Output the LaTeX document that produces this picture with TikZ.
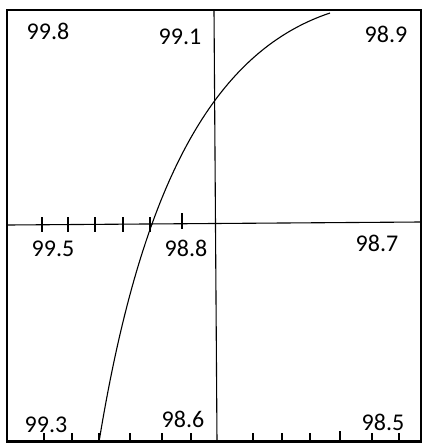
\documentclass[tikz,border=0pt]{standalone}
\usepackage{fontspec}
\setmainfont{Carlito}
\begin{document}
\begin{tikzpicture}[x=1pt,y=-1pt,
  lbl/.style={inner sep=0pt,font=\fontsize{24}{24}\selectfont},
  thin line/.style={line width=1.1pt,black},
  frame/.style={line width=2.4pt,black},
  tickmark/.style={line width=1.1pt,black}]
\useasboundingbox (0,0) rectangle (424,444);
% axes-like lines
\draw[thin line] (8,225) -- (421,222);
\draw[thin line] (214,10) -- (217,442);
% ticks on horizontal line
\foreach \x in {42,68,95,123,150}{\draw[tickmark] (\x,217) -- (\x,232);}
\draw[tickmark] (182,213) -- (182,229);
% ticks on bottom
\foreach \x in {44,72,99,130,162,191,253,282,310,372,399}{\draw[tickmark] (\x,442) -- (\x,433);}
\draw[tickmark] (340,442) -- (340,431);
% curve
\coordinate (cs) at (99,442);
\coordinate (ce) at (330,13);
\draw[thin line] (cs) .. controls (139.8,192) and (210,53) .. (ce);
% frame
\draw[frame] (7,10) rectangle (421,441.5);
% labels
\node[lbl] (l998) at (48,31) {99.8};
\node[lbl] (l991) at (180,37) {99.1};
\node[lbl] (l989) at (386,34) {98.9};
\node[lbl] (l995) at (53,249) {99.5};
\node[lbl] (l988) at (186,248) {98.8};
\node[lbl] (l987) at (377,243) {98.7};
\node[lbl] (l993) at (46,425) {99.3};
\node[lbl] (l986) at (183,419) {98.6};
\node[lbl] (l985) at (383,422) {98.5};
\end{tikzpicture}
\end{document}
